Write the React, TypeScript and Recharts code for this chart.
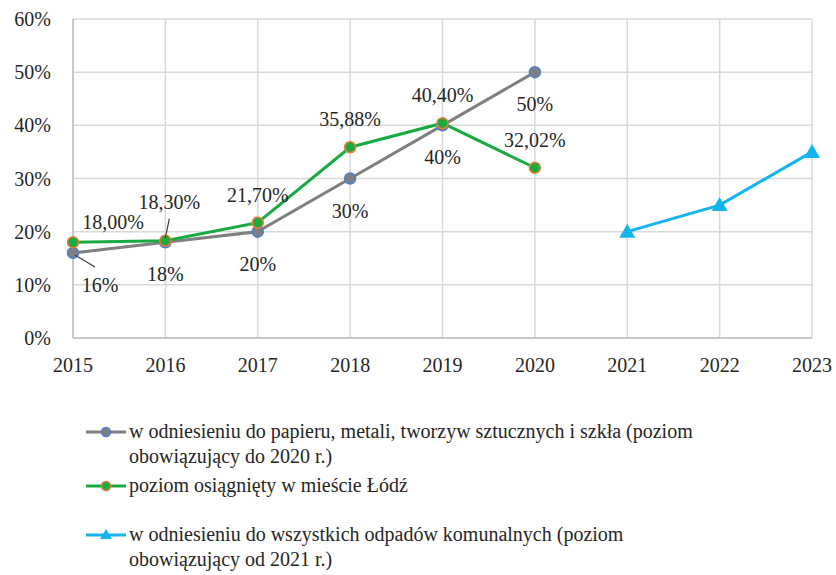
import React from "react";
import {
  LineChart,
  Line,
  CartesianGrid,
  XAxis,
  YAxis,
  Legend,
  LabelList,
} from "recharts";

const YEARS = ["2015", "2016", "2017", "2018", "2019", "2020", "2021", "2022", "2023"];
const LEVEL_TO_2020 = [16, 18, 20, 30, 40, 50, null, null, null];
const LODZ_ACHIEVED = [18, 18.3, 21.7, 35.88, 40.4, 32.02, null, null, null];
const LEVEL_FROM_2021 = [null, null, null, null, null, null, 20, 25, 35];
const Y_TICKS = [0, 10, 20, 30, 40, 50, 60];

const NAME_GRAY = "w odniesieniu do papieru, metali, tworzyw sztucznych i szkła (poziom obowiązujący do 2020 r.)";
const NAME_GREEN = "poziom osiągnięty w mieście Łódź";
const NAME_BLUE = "w odniesieniu do wszystkich odpadów komunalnych (poziom obowiązujący od 2021 r.)";

const GRAY = "#7f7f7f";
const GREEN = "#19ab42";
const BLUE = "#14b4f0";
const GRAY_RING = "#4f7fd0";
const GREEN_RING = "#ed7d31";
const TEXT = "#262626";
const FONT = "Liberation Serif, DejaVu Serif, serif";

const data = YEARS.map((year, i) => ({
  year,
  gray: LEVEL_TO_2020[i],
  green: LODZ_ACHIEVED[i],
  blue: LEVEL_FROM_2021[i],
}));

const fmtInt = (v: number) => `${v}%`;
const fmtDec = (v: number) => `${v.toFixed(2).replace(".", ",")}%`;

// etykiety szarej serii pod punktami, pierwsza przesunięta w prawo z linią odniesienia
function GrayLabel(props: any) {
  const { x, y, value, index } = props;
  if (value == null) return null;
  const first = index === 0;
  const lx = first ? x + 27 : x;
  const ly = y + 32;
  return (
    <g>
      {first && <line x1={x + 2} y1={y + 2} x2={x + 22} y2={y + 14} stroke="#404040" strokeWidth={1.2} />}
      <text x={lx} y={ly} textAnchor="middle" dominantBaseline="central" fontSize={20} fill={TEXT} fontFamily={FONT}>
        {fmtInt(value)}
      </text>
    </g>
  );
}

function GreenLabel(props: any) {
  const { x, y, value, index } = props;
  if (value == null) return null;
  let lx = x;
  let ly = y - 28;
  if (index === 0) {
    lx = x + 40;
    ly = y - 20;
  }
  if (index === 1) {
    lx = x + 4;
    ly = y - 39;
  }
  return (
    <g>
      {index === 1 && <line x1={x} y1={y - 3} x2={x + 4} y2={y - 22} stroke="#404040" strokeWidth={1.2} />}
      <text x={lx} y={ly} textAnchor="middle" dominantBaseline="central" fontSize={20} fill={TEXT} fontFamily={FONT}>
        {fmtDec(value)}
      </text>
    </g>
  );
}

function Triangle(props: any) {
  const { cx, cy } = props;
  if (cx == null || cy == null || props.value == null) return null;
  return <path d={`M${cx},${cy - 8} L${cx + 8},${cy + 6} L${cx - 8},${cy + 6} Z`} fill={BLUE} />;
}

function LegendIcon({ kind }: { kind: string }) {
  const color = kind === "gray" ? GRAY : kind === "green" ? GREEN : BLUE;
  return (
    <svg width={42} height={14} style={{ flex: "none", marginTop: 6 }}>
      <line x1={1} y1={7} x2={41} y2={7} stroke={color} strokeWidth={3} />
      {kind === "blue" ? (
        <path d="M21,1 L27,11 L15,11 Z" fill={BLUE} />
      ) : (
        <circle cx={21} cy={7} r={4.5} fill={color} stroke={kind === "gray" ? GRAY_RING : GREEN_RING} strokeWidth={1.5} />
      )}
    </svg>
  );
}

function LegendBox() {
  const items = [
    { kind: "gray", name: NAME_GRAY, h: 54 },
    { kind: "green", name: NAME_GREEN, h: 49 },
    { kind: "blue", name: NAME_BLUE, h: 50 },
  ];
  return (
    <div style={{ fontFamily: FONT, fontSize: 20, color: TEXT, lineHeight: "25px" }}>
      {items.map((it) => (
        <div key={it.kind} style={{ display: "flex", alignItems: "flex-start", height: it.h }}>
          <LegendIcon kind={it.kind} />
          <div style={{ marginLeft: 2, width: 565 }}>{it.name}</div>
        </div>
      ))}
    </div>
  );
}

export default function App() {
  return (
    <div style={{ position: "absolute", left: 0, top: 0, background: "#fff" }}>
      <LineChart
        width={836}
        height={575}
        data={data}
        margin={{ top: 19, right: 24, left: 13, bottom: 207 }}
      >
        <CartesianGrid stroke="#d9d9d9" strokeWidth={1.5} />
        <XAxis
          dataKey="year"
          tickLine={false}
          axisLine={{ stroke: "#bfbfbf", strokeWidth: 1.5 }}
          tick={{ fill: TEXT, fontSize: 20, fontFamily: FONT }}
          tickMargin={14}
          interval={0}
          padding={{ left: 0, right: 0 }}
        />
        <YAxis
          domain={[0, 60]}
          ticks={Y_TICKS}
          tickFormatter={(v) => `${v}%`}
          tickLine={false}
          axisLine={{ stroke: "#bfbfbf", strokeWidth: 1.5 }}
          tick={{ fill: TEXT, fontSize: 20, fontFamily: FONT }}
          tickMargin={16}
          width={60}
        />
        <Legend
          layout="vertical"
          align="center"
          verticalAlign="middle"
          wrapperStyle={{ top: 419, left: 85, width: 740 }}
          content={() => <LegendBox />}
        />
        <Line
          dataKey="gray"
          name={NAME_GRAY}
          stroke={GRAY}
          strokeWidth={3}
          dot={{ r: 5.5, fill: GRAY, stroke: GRAY_RING, strokeWidth: 1.5 }}
          isAnimationActive={false}
        >
          <LabelList dataKey="gray" content={GrayLabel} />
        </Line>
        <Line
          dataKey="green"
          name={NAME_GREEN}
          stroke={GREEN}
          strokeWidth={3}
          dot={{ r: 5.5, fill: GREEN, stroke: GREEN_RING, strokeWidth: 1.5 }}
          isAnimationActive={false}
        >
          <LabelList dataKey="green" content={GreenLabel} />
        </Line>
        <Line
          dataKey="blue"
          name={NAME_BLUE}
          stroke={BLUE}
          strokeWidth={3}
          dot={<Triangle />}
          isAnimationActive={false}
        />
      </LineChart>
    </div>
  );
}
